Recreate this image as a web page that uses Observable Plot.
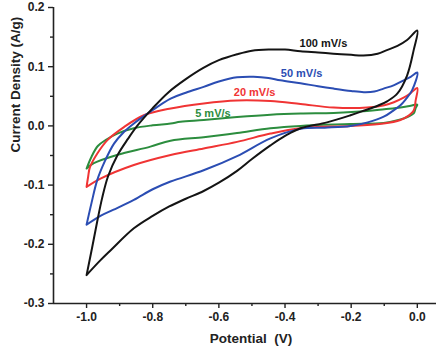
<!DOCTYPE html>
<html>
<head>
<meta charset="utf-8">
<script src="https://cdn.jsdelivr.net/npm/d3@7"></script>
<script src="https://cdn.jsdelivr.net/npm/@observablehq/plot@0.6"></script>
<style>
  html, body { margin: 0; padding: 0; background: #fff; }
</style>
</head>
<body>
<div id="chart"></div>
<script>
// Cyclic voltammetry loops at four scan rates (potential in V, current density in A/g).
// Each loop runs from -1.0 V up to 0.0 V (anodic branch) and back to -1.0 V.
const scanRates = ["5 mV/s", "20 mV/s", "50 mV/s", "100 mV/s"];
const rateColors = ["#2c8d3e", "#f03434", "#2b4db3", "#141414"];

const potential5 = [-1.0, -0.985, -0.966, -0.94, -0.907, -0.857, -0.8, -0.746, -0.716, -0.646, -0.545, -0.444, -0.353, -0.253, -0.152, -0.1, -0.051, -0.02, 0.0,
  -0.005, -0.011, -0.03, -0.051, -0.102, -0.202, -0.353, -0.444, -0.545, -0.646, -0.746, -0.807, -0.907, -0.978, -1.0];
const current5 = [-0.072, -0.052, -0.034, -0.023, -0.013, -0.004, 0.001, 0.004, 0.007, 0.010, 0.015, 0.019, 0.021, 0.022, 0.025, 0.028, 0.031, 0.034, 0.036,
  0.030, 0.021, 0.015, 0.011, 0.005, 0.003, 0.000, -0.004, -0.012, -0.019, -0.025, -0.035, -0.049, -0.063, -0.072];

const potential20 = [-1.0, -0.995, -0.99, -0.968, -0.937, -0.887, -0.827, -0.75, -0.646, -0.545, -0.444, -0.353, -0.253, -0.152, -0.1, -0.071, -0.04, -0.021, 0.0,
  -0.005, -0.011, -0.03, -0.051, -0.102, -0.202, -0.353, -0.444, -0.545, -0.646, -0.746, -0.857, -0.958, -1.0];
const current20 = [-0.103, -0.085, -0.07, -0.047, -0.024, -0.002, 0.018, 0.029, 0.038, 0.043, 0.042, 0.037, 0.031, 0.031, 0.035, 0.040, 0.048, 0.055, 0.064,
  0.043, 0.026, 0.016, 0.010, 0.004, 0.000, -0.004, -0.013, -0.027, -0.038, -0.049, -0.066, -0.089, -0.103];

const potential50 = [-1.0, -0.985, -0.968, -0.945, -0.917, -0.89, -0.857, -0.807, -0.746, -0.7, -0.646, -0.6, -0.545, -0.495, -0.45, -0.414, -0.353, -0.3, -0.253, -0.2, -0.162, -0.13, -0.102, -0.07, -0.041, -0.02, 0.0,
  -0.016, -0.035, -0.051, -0.075, -0.1, -0.15, -0.202, -0.28, -0.353, -0.444, -0.545, -0.646, -0.746, -0.8, -0.857, -0.92, -0.958, -1.0];
const current50 = [-0.167, -0.13, -0.092, -0.06, -0.03, -0.012, 0.004, 0.024, 0.046, 0.056, 0.066, 0.075, 0.082, 0.083, 0.081, 0.077, 0.072, 0.067, 0.063, 0.059, 0.057, 0.058, 0.063, 0.069, 0.077, 0.083, 0.090,
  0.060, 0.045, 0.035, 0.025, 0.016, 0.006, 0.000, -0.003, -0.005, -0.021, -0.051, -0.075, -0.094, -0.107, -0.125, -0.142, -0.152, -0.167];

const potential100 = [-1.0, -0.983, -0.968, -0.953, -0.935, -0.907, -0.875, -0.847, -0.8, -0.752, -0.7, -0.647, -0.6, -0.545, -0.5, -0.444, -0.4, -0.353, -0.3, -0.254, -0.2, -0.163, -0.12, -0.092, -0.06, -0.031, 0.0,
  -0.011, -0.031, -0.06, -0.09, -0.12, -0.16, -0.202, -0.273, -0.353, -0.4, -0.444, -0.5, -0.545, -0.6, -0.646, -0.7, -0.75, -0.8, -0.857, -0.927, -0.96, -1.0];
const current100 = [-0.252, -0.205, -0.162, -0.122, -0.085, -0.050, -0.022, 0.0, 0.030, 0.057, 0.079, 0.098, 0.111, 0.121, 0.127, 0.129, 0.129, 0.126, 0.124, 0.122, 0.12, 0.119, 0.122, 0.128, 0.135, 0.145, 0.161,
  0.128, 0.085, 0.055, 0.042, 0.034, 0.026, 0.018, 0.006, -0.004, -0.017, -0.033, -0.056, -0.076, -0.096, -0.110, -0.123, -0.136, -0.152, -0.173, -0.21, -0.228, -0.252];

// Where each scan-rate annotation sits (data coordinates)
const labelPotential = [-0.618, -0.492, -0.350, -0.284];
const labelCurrent = [0.021, 0.056, 0.0885, 0.139];

const xTicks = [-1.0, -0.8, -0.6, -0.4, -0.2, 0.0];
const xMinorTicks = [-0.9, -0.7, -0.5, -0.3, -0.1];
const yTicks = [-0.3, -0.2, -0.1, 0.0, 0.1, 0.2];
const yMinorTicks = [-0.25, -0.15, -0.05, 0.05, 0.15];

const loops = [
  [potential5, current5],
  [potential20, current20],
  [potential50, current50],
  [potential100, current100]
];
const rows = loops.flatMap(([p, c], k) => p.map((v, i) => ({rate: scanRates[k], potential: v, current: c[i]})));
const labels = scanRates.map((r, k) => ({rate: r, potential: labelPotential[k], current: labelCurrent[k]}));

const fmt = d => d.toFixed(1);
const axisColor = "#222";

const chart = Plot.plot({
  width: 436,
  height: 354,
  marginLeft: 53,
  marginRight: 0,
  marginTop: 7,
  marginBottom: 51,
  style: {fontFamily: "'Liberation Sans', Arial, sans-serif", fontWeight: "bold", fontSize: "12px", color: axisColor, background: "#fff"},
  x: {domain: [-1.1, 0.058]},
  y: {domain: [-0.3, 0.2]},
  color: {domain: scanRates, range: rateColors},
  marks: [
    Plot.axisX({ticks: xTicks, tickSize: 5, tickPadding: 4, tickFormat: fmt, label: null, strokeWidth: 1.4}),
    Plot.axisX({ticks: xMinorTicks, tickSize: 3, tickFormat: () => "", label: null, strokeWidth: 1.4}),
    Plot.axisY({ticks: yTicks, tickSize: 5, tickPadding: 4, tickFormat: fmt, label: null, strokeWidth: 1.4}),
    Plot.axisY({ticks: yMinorTicks, tickSize: 3, tickFormat: () => "", label: null, strokeWidth: 1.4}),
    Plot.ruleX([-1.1], {y1: -0.3, y2: 0.2, stroke: axisColor, strokeWidth: 1.6}),
    Plot.ruleY([-0.3], {stroke: axisColor, strokeWidth: 1.6}),
    Plot.line(rows, {x: "potential", y: "current", z: "rate", stroke: "rate", strokeWidth: 2, curve: "catmull-rom", strokeLinejoin: "round"}),
    Plot.text(labels, {x: "potential", y: "current", text: "rate", fill: "rate", fontSize: 11, fontWeight: "bold"}),
    Plot.text(["Current Density (A/g)"], {frameAnchor: "left", rotate: -90, dx: -38, dy: -3, fontSize: 13.5, fontWeight: "bold", fill: axisColor}),
    Plot.text(["Potential\u00a0\u00a0(V)"], {frameAnchor: "bottom", dx: 6, dy: 39, fontSize: 13.5, fontWeight: "bold", fill: axisColor})
  ]
});

document.getElementById("chart").appendChild(chart);
</script>
</body>
</html>
